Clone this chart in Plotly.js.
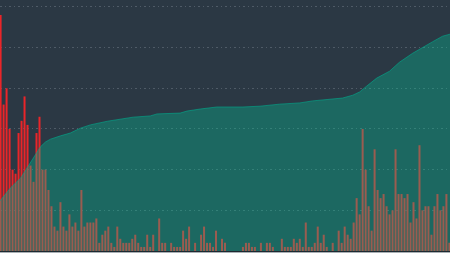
<!DOCTYPE html>
<html>
<head>
<meta charset="utf-8">
<script src="https://cdn.plot.ly/plotly-3.0.1.min.js"></script>
<style>
  html, body { margin: 0; padding: 0; background: #a9b0b5; }
  #chart { width: 450px; height: 253px; }
</style>
</head>
<body>
<div id="chart"></div>
<script>
// Bar values, one per slot (151 slots)
const barValues = [
  58,36,40,30,20,19,29,32,38,31,21,17,29,33,20,20,15,11,6,5,12,6,5,9,6,
  7,5,15,6,7,7,7,8,2,4,5,6,2,1,6,3,2,2,2,3,4,2,1,1,4,1,
  4,0,8,2,2,0,2,1,1,1,5,3,6,0,2,0,4,6,2,2,1,5,0,3,2,
  0,0,0,0,0,1,2,2,1,1,0,2,0,2,2,1,0,0,3,1,1,1,3,2,3,
  1,7,1,1,2,6,2,4,1,0,2,0,5,2,6,4,3,7,13,9,30,20,11,5,25,
  15,13,14,11,9,10,25,14,14,13,14,7,12,8,26,10,11,11,4,11,14,10,11,14,2
];
const barSlots = barValues.map((v, i) => i);

// Teal area profile, read at points along the x axis
const areaX = [-0.2, 3.3, 6.7, 10, 11.7, 13.3, 15, 16.7, 20, 23.3, 26.7, 30, 35.7, 40, 44.3, 50,
  52.3, 60, 62.3, 66.7, 72.3, 81, 86.7, 93.3, 100, 104.3, 111, 114.3, 117.7, 120, 122.3,
  125.7, 130, 133.3, 137.7, 141, 144.3, 147.7, 150.2];
const areaY = [12.3, 15.5, 17.9, 21.6, 23.6, 25.6, 26.8, 27.5, 28.3, 29.0, 30.2, 31.0, 31.9, 32.4, 32.9, 33.2,
  33.7, 33.9, 34.4, 34.9, 35.4, 35.4, 35.6, 36.1, 36.4, 36.9, 37.3, 37.6, 38.3, 39.1, 40.5,
  42.5, 44.2, 46.4, 48.6, 50.1, 51.4, 52.8, 53.3];

const traces = [
  {
    type: 'bar',
    x: barSlots,
    y: barValues,
    marker: { color: '#ea2529', line: { width: 0 } },
    hoverinfo: 'skip'
  },
  {
    type: 'scatter',
    mode: 'lines',
    x: areaX,
    y: areaY,
    fill: 'tozeroy',
    fillcolor: 'rgba(0,200,155,0.34)',
    line: { color: 'rgba(0,170,140,0.6)', width: 1 },
    hoverinfo: 'skip'
  }
];

const layout = {
  width: 450,
  height: 253,
  margin: { l: 0, r: 0, t: 0, b: 2, pad: 0 },
  paper_bgcolor: '#a9b0b5',
  plot_bgcolor: '#2b3844',
  showlegend: false,
  bargap: 0.33,
  xaxis: {
    range: [-0.2, 150.2],
    showgrid: false,
    zeroline: false,
    showticklabels: false,
    ticks: '',
    showline: true,
    linecolor: '#1e2830',
    linewidth: 1
  },
  yaxis: {
    range: [0, 61.7],
    dtick: 10,
    showgrid: true,
    gridcolor: 'rgba(140,150,160,0.38)',
    griddash: '2px,3px,1px,3px',
    gridwidth: 1,
    zeroline: false,
    showticklabels: false,
    ticks: ''
  }
};

Plotly.newPlot('chart', traces, layout, { displayModeBar: false, staticPlot: true });
</script>
</body>
</html>
